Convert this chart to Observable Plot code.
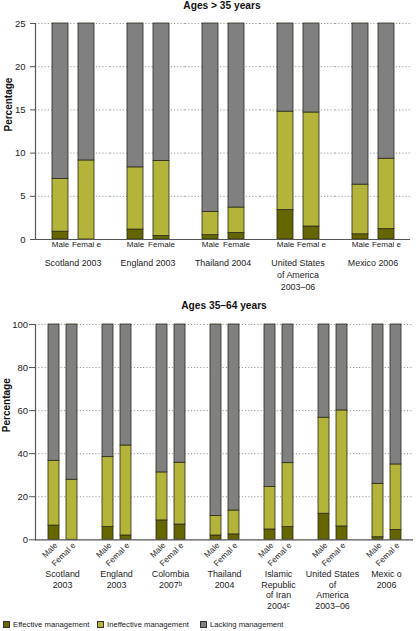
<!DOCTYPE html>
<html>
<head>
<meta charset="utf-8">
<script src="https://cdn.jsdelivr.net/npm/d3@7"></script>
<script src="https://cdn.jsdelivr.net/npm/@observablehq/plot@0.6"></script>
<style>
  html, body { margin: 0; padding: 0; background: #fff; }
  body { font-family: "Liberation Sans", Arial, sans-serif; }
  #wrap { position: relative; width: 416px; height: 631px; overflow: hidden; }
  .ttl { position: absolute; font-weight: bold; font-size: 10.2px; color: #111; text-align: center; white-space: nowrap; }
  .pnl { position: absolute; left: 0; }
  .leg { position: absolute; top: 620px; font-size: 7.7px; line-height: 9px; color: #222; white-space: nowrap; }
  .leg i { display: inline-block; width: 5px; height: 5px; border: 1px solid #333; vertical-align: -0.5px; margin-right: 3px; }
</style>
</head>
<body>
<div id="wrap"></div>
<script>
// ---------- data ----------
const series = ["Effective management", "Ineffective management", "Lacking management"];
const seriesColors = ["#666600", "#b4b43a", "#808080"];

const topTitle = "Ages > 35 years";
const topCountries = ["Scotland 2003", "England 2003", "Thailand 2004", "United States\nof America\n2003–06", "Mexico 2006"];
const topSexLabels = [["Male", "Femal e"], ["Male", "Female"], ["Male", "Female"], ["Male", "Femal e"], ["Male", "Femal e"]];
const topEffective = [[0.9, 0], [1.15, 0.4], [0.5, 0.75], [3.4, 1.5], [0.6, 1.2]];
const topIneffective = [[6.1, 9.15], [7.2, 8.7], [2.7, 2.95], [11.4, 13.2], [5.75, 8.15]];
const topTicks = [0, 5, 10, 15, 20, 25];

const bottomTitle = "Ages 35–64 years";
const bottomCountries = ["Scotland\n2003", "England\n2003", "Colombia\n2007ᵇ", "Thailand\n2004", "Islamic\nRepublic\nof Iran\n2004ᶜ", "United States\nof\nAmerica\n2003–06", "Mexic o\n2006"];
const bottomSexLabels = bottomCountries.map(() => ["Male", "Femal e"]);
const bottomEffective = [[6.6, 0], [5.9, 2.0], [9.0, 7.1], [2.0, 2.5], [4.8, 5.9], [12.1, 6.2], [1.2, 4.6]];
const bottomIneffective = [[30.1, 27.9], [32.5, 41.8], [22.3, 28.7], [9.1, 11.1], [19.7, 29.7], [44.6, 53.9], [24.8, 30.4]];
const bottomTicks = [0, 20, 40, 60, 80, 100];

const sexes = ["Male", "Female"];
const FONT = '"Liberation Sans", Arial, sans-serif';

function buildRows(countries, sexLabels, eff, ineff) {
  const rows = [];
  countries.forEach((c, i) => {
    sexes.forEach((s, j) => {
      const e = eff[i][j], n = ineff[i][j];
      const vals = [e, n, 100 - e - n];
      series.forEach((k, m) => rows.push({country: c, sex: s, label: sexLabels[i][j], series: k, value: vals[m]}));
    });
  });
  return rows;
}

function panel(o) {
  const rows = buildRows(o.countries, o.sexLabels, o.eff, o.ineff);
  const labels = rows.filter(d => d.series === series[0]);
  const first = o.countries[0];
  const sexText = o.rotated
    ? Plot.text(labels, {fx: "country", x: "sex", text: "label", frameAnchor: "bottom", rotate: -45, textAnchor: "end", dx: 4, dy: 6, fontSize: 8.2, fill: "#222"})
    : Plot.text(labels, {fx: "country", x: "sex", text: "label", frameAnchor: "bottom", dy: 7.5, fontSize: 8.1, fill: "#222"});
  return Plot.plot({
    width: 416,
    height: o.height,
    marginTop: o.marginTop,
    marginBottom: o.marginBottom,
    marginLeft: o.marginLeft,
    marginRight: o.marginRight,
    style: {fontFamily: FONT, fontSize: "9px", background: "#fff", overflow: "visible"},
    fx: {domain: o.countries, padding: 0, axis: null},
    x: {domain: sexes, paddingInner: 0.39, paddingOuter: 0.63, axis: null},
    y: {domain: [0, o.yMax], clamp: true},
    color: {domain: series, range: seriesColors},
    marks: [
      Plot.gridY(o.ticks.slice(1), {stroke: "#999", strokeOpacity: 1, strokeDasharray: "1.2,2"}),
      Plot.barY(rows, Plot.stackY({order: series}, {fx: "country", x: "sex", y: "value", fill: "series", stroke: "#2a2a1a", strokeWidth: 0.8})),
      Plot.ruleY([0], {stroke: "#555", strokeWidth: 1.2}),
      Plot.frame({anchor: "left", facetAnchor: "left", stroke: "#555", strokeWidth: 1.2}),
      Plot.axisY({ticks: o.ticks, tickSize: o.tickSize, tickPadding: o.tickPadding, label: null, fontSize: 9.5, stroke: "#555", fill: "#222"}),
      Plot.text([{country: first}], {fx: "country", text: () => "Percentage", frameAnchor: "left", rotate: -90, dx: o.yLabelDx, fontWeight: "bold", fontSize: 10, fill: "#111"}),
      sexText,
      Plot.text(o.countries, {fx: d => d, text: d => d, frameAnchor: "bottom", lineAnchor: "top", dy: o.groupDy, lineHeight: o.lineHeight, fontSize: 8.9, fill: "#222"})
    ]
  });
}

const wrap = document.getElementById("wrap");

const t1 = document.createElement("div");
t1.className = "ttl"; t1.textContent = topTitle;
t1.style.left = "33px"; t1.style.width = "378px"; t1.style.top = "0px";
const p1 = panel({countries: topCountries, sexLabels: topSexLabels, eff: topEffective, ineff: topIneffective, yMax: 25, ticks: topTicks,
  height: 296, marginTop: 23, marginBottom: 57, marginLeft: 33, marginRight: 5, rotated: false, groupDy: 17.5, lineHeight: 1.35, yLabelDx: -27, tickSize: 5, tickPadding: 5});
p1.classList.add("pnl"); p1.style.top = "0px";

const t2 = document.createElement("div");
t2.className = "ttl"; t2.textContent = bottomTitle;
t2.style.left = "35px"; t2.style.width = "378px"; t2.style.top = "300px";
const p2 = panel({countries: bottomCountries, sexLabels: bottomSexLabels, eff: bottomEffective, ineff: bottomIneffective, yMax: 100, ticks: bottomTicks,
  height: 310, marginTop: 24, marginBottom: 70.7, marginLeft: 35, marginRight: 3, rotated: true, groupDy: 29.5, lineHeight: 1.2, yLabelDx: -29, tickSize: 6, tickPadding: 1.5});
p2.classList.add("pnl"); p2.style.top = "300px";

wrap.appendChild(p1);
wrap.appendChild(p2);
wrap.appendChild(t1);
wrap.appendChild(t2);

const legX = [3, 97, 200];
series.forEach((s, i) => {
  const d = document.createElement("div");
  d.className = "leg";
  d.style.left = legX[i] + "px";
  const sw = document.createElement("i");
  sw.style.background = seriesColors[i];
  d.appendChild(sw);
  d.appendChild(document.createTextNode(s));
  wrap.appendChild(d);
});
</script>
</body>
</html>
